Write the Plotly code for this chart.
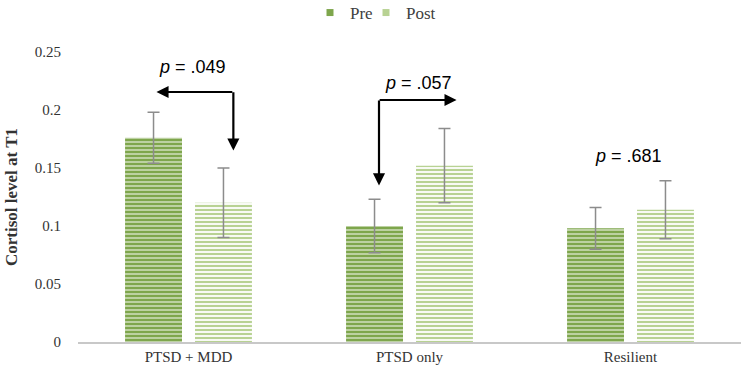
import plotly.graph_objects as go

categories = ["PTSD + MDD", "PTSD only", "Resilient"]
pre_values = [0.176, 0.100, 0.098]
pre_errors = [0.022, 0.023, 0.018]
post_values = [0.120, 0.152, 0.114]
post_errors = [0.030, 0.032, 0.025]
y_ticks = [0, 0.05, 0.1, 0.15, 0.2, 0.25]
y_tick_labels = ["0", "0.05", "0.1", "0.15", "0.2", "0.25"]
p_labels = [".049", ".057", ".681"]
series_names = ["Pre", "Post"]
series_colors = ["#7ea64c", "#b8d293"]

SERIF = "Liberation Serif"
SANS = "Liberation Sans"

fig = go.Figure()
fig.add_trace(go.Bar(
    name=series_names[0], x=categories, y=pre_values, showlegend=False,
    marker=dict(color=series_colors[0], line=dict(width=0),
                pattern=dict(shape="-", bgcolor=series_colors[0], fgcolor="#e6eedb",
                             size=4, solidity=0.3, fillmode="replace")),
    error_y=dict(type="data", array=pre_errors, color="#8c8c8c", thickness=1.5, width=6),
))
fig.add_trace(go.Bar(
    name=series_names[1], x=categories, y=post_values, showlegend=False,
    marker=dict(color=series_colors[1], line=dict(width=0),
                pattern=dict(shape="-", bgcolor="#ffffff", fgcolor=series_colors[1],
                             size=4, solidity=0.55, fillmode="replace")),
    error_y=dict(type="data", array=post_errors, color="#8c8c8c", thickness=1.5, width=6),
))
# legend entries with small square swatches, one legend box each
for name, col, lg in zip(series_names, series_colors, ["legend", "legend2"]):
    fig.add_trace(go.Scatter(x=[None], y=[None], mode="markers", name=name, legend=lg,
                             marker=dict(symbol="square", size=7, color=col)))

plot_l, plot_r, plot_t, plot_b = 78, 2, 52, 35
pw = 743 - plot_l - plot_r
ph = 377 - plot_t - plot_b

ann_font = dict(family=SANS, size=18, color="black")
annotations = [
    dict(x=0.02, y=0.237, text="<i>p</i> = " + p_labels[0], showarrow=False, font=ann_font,
         xref="x", yref="y"),
    dict(x=1.04, y=0.223, text="<i>p</i> = " + p_labels[1], showarrow=False, font=ann_font,
         xref="x", yref="y"),
    dict(x=1.99, y=0.160, text="<i>p</i> = " + p_labels[2], showarrow=False, font=ann_font,
         xref="x", yref="y"),
    dict(x=(11 - plot_l) / pw, y=(377 - plot_b - 197) / ph, xref="paper", yref="paper",
         text="<b>Cortisol level at T1</b>", showarrow=False, textangle=-90,
         font=dict(family=SERIF, size=17, color="#333333"),
         xanchor="center", yanchor="middle"),
]

arrow_style = dict(showarrow=True, arrowhead=2, arrowsize=1.1, arrowwidth=2.2,
                   arrowcolor="black", xref="x", yref="y", axref="x", ayref="y", text="")
annotations.append(dict(x=-0.145, y=0.2155, ax=0.205, ay=0.2155, **arrow_style))
annotations.append(dict(x=0.203, y=0.165, ax=0.203, ay=0.2165, **arrow_style))
annotations.append(dict(x=0.862, y=0.135, ax=0.862, ay=0.2095, **arrow_style))
annotations.append(dict(x=1.213, y=0.2086, ax=0.858, ay=0.2086, **arrow_style))

legend_common = dict(orientation="h", xref="container", xanchor="left",
                     y=1 - 13 / 377, yref="container", yanchor="middle",
                     font=dict(family=SERIF, size=17, color="#404040"),
                     itemwidth=30, bgcolor="rgba(0,0,0,0)")

fig.update_layout(
    width=743, height=377,
    margin=dict(l=plot_l, r=plot_r, t=plot_t, b=plot_b, autoexpand=False),
    paper_bgcolor="white", plot_bgcolor="white",
    barmode="group", bargap=0.367, bargroupgap=0.186,
    showlegend=True,
    legend=dict(x=310 / 743, **legend_common),
    legend2=dict(x=366 / 743, **legend_common),
    annotations=annotations,
    xaxis=dict(showline=True, linecolor="#c8c8c8", linewidth=2, ticks="",
               tickfont=dict(family=SERIF, size=15, color="#333333"), showgrid=False),
    yaxis=dict(range=[0, 0.25], tickvals=y_ticks, ticktext=y_tick_labels, showgrid=False,
               showline=False, zeroline=False, ticks="", ticklabelstandoff=16,
               tickfont=dict(family=SERIF, size=15, color="#333333")),
)

fig.write_html("out.html", config={"displayModeBar": False},
               post_script="document.body.style.margin='0';")
